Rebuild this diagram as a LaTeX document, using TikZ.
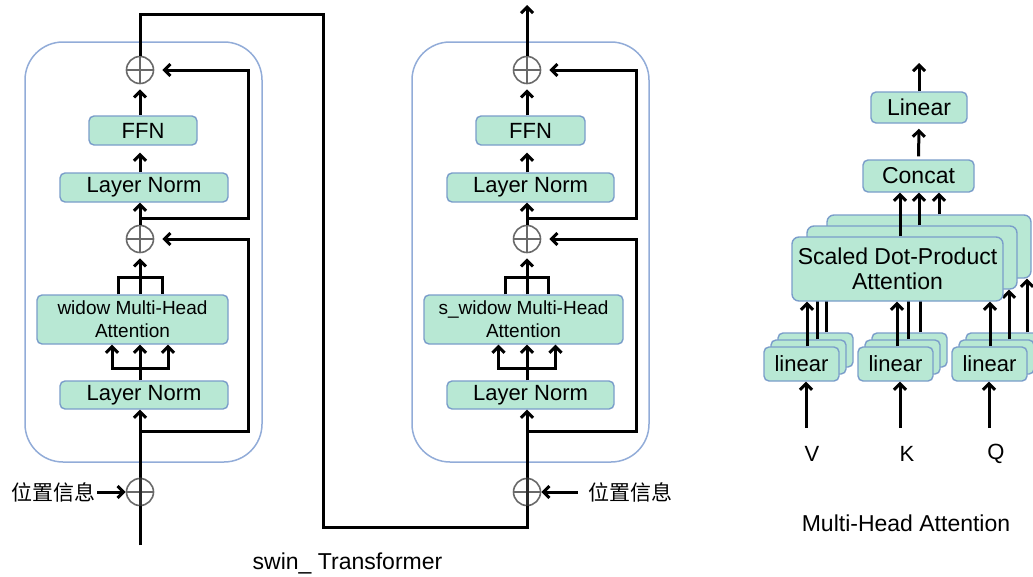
\documentclass[tikz,border=0pt]{standalone}
\usepackage{fontspec}
\setmainfont{Liberation Sans}
\newfontfamily\cjk{Noto Sans CJK SC}
\usetikzlibrary{arrows.meta}
\definecolor{boxfill}{RGB}{184,232,212}
\definecolor{boxdraw}{RGB}{122,157,202}
\definecolor{outerc}{RGB}{146,172,216}
\definecolor{opc}{RGB}{105,105,105}
\tikzset{
  wire/.style={line width=3pt, line join=miter},
  arr/.style={wire, -{Straight Barb[length=6pt,width=12pt]}},
  blk/.style={draw=boxdraw, fill=boxfill, line width=1.4pt, rounded corners=5pt, inner sep=0pt, font=\fontsize{22}{24}\selectfont},
  outerbox/.style={draw=outerc, line width=1.5pt, rounded corners=38pt, inner sep=0pt},
  opl/.style={circle, draw=opc, fill=white, line width=1.6pt, minimum size=27pt, inner sep=0pt,
    path picture={\draw[opc,line width=1.3pt] (path picture bounding box.north) -- (path picture bounding box.south) (path picture bounding box.west) -- (path picture bounding box.east);}},
  lbl/.style={inner sep=0pt, font=\fontsize{22}{24}\selectfont},
  cjklbl/.style={inner sep=0pt, font=\cjk\fontsize{21}{24}\selectfont},
  attn/.style={blk, align=center, font=\fontsize{19}{23}\selectfont},
  mh/.style={blk, font=\fontsize{23}{25}\selectfont},
  sdpa/.style={blk, align=center, font=\fontsize{23}{25}\selectfont, rounded corners=7pt},
  lin/.style={blk, minimum width=75pt, minimum height=34pt, font=\fontsize{22}{24}\selectfont},
}
\begin{document}
\begin{tikzpicture}[x=1pt,y=-1pt]
\useasboundingbox (0,0) rectangle (1033,576);

% ================= left block =================
\node[outerbox, minimum width=237pt, minimum height=420pt] (boxL) at (143.5,252) {};
\coordinate (inL) at (140,545);
\coordinate (fanL) at (140,368);
\draw[wire] (inL) -- (140,492);
\node[blk, minimum width=108pt, minimum height=29pt] (FFNL) at (143,130.5) {FFN};
\node[blk, minimum width=168pt, minimum height=29pt] (LNaL) at (144,187.5) {Layer Norm};
\node[attn, minimum width=191pt, minimum height=49pt] (ATL) at (132.5,319.5) {widow Multi-Head\\Attention};
\node[blk, minimum width=168pt, minimum height=28pt] (LNbL) at (144,395) {Layer Norm};
\node[cjklbl] (PL) at (53,492) {位置信息};

\draw[arr] (140,492) -- (fanL |- LNbL.south);
\draw[wire] (fanL |- LNbL.north) -- (fanL);
\draw[arr] (fanL) -| ([xshift=-28pt]fanL |- ATL.south);
\draw[arr] (fanL) -| ([xshift=28pt]fanL |- ATL.south);
\draw[arr] (fanL) -- (fanL |- ATL.south);
\draw[wire] ([xshift=-22pt]fanL |- ATL.north) |- ([xshift=22pt]fanL |- 0,277) -- ([xshift=22pt]fanL |- ATL.north);

\node[opl] (BL) at (140,492) {};
\draw[wire] (inL) -- (BL.south);
\draw[wire, opc!40!black] (BL.south) -- (BL.north);
\node[opl] (ML) at (140,239) {};
\node[opl] (TL) at (140,70) {};

\draw[arr, shorten >=5pt] (ML |- ATL.north) -- (ML);
\draw[arr] (ML) -- (ML |- LNaL.south);
\draw[arr, shorten >=7pt] (TL |- LNaL.north) -- (TL |- FFNL.south);
\draw[arr, shorten >=5pt] (TL |- FFNL.north) -- (TL);
\draw[arr, shorten >=8pt] (ML |- 0,218) -| (248,0 |- TL) -- (TL);
\draw[arr, shorten >=8pt] (BL |- 0,431) -| (248,0 |- ML) -- (ML);
\draw[arr, shorten <=2pt] (PL.east) -- (BL);

% ================= right block =================
\node[outerbox, minimum width=237pt, minimum height=420pt] (boxR) at (530.5,252) {};
\coordinate (fanR) at (527,368);
\node[blk, minimum width=109pt, minimum height=29pt] (FFNR) at (530.5,130.5) {FFN};
\node[blk, minimum width=167pt, minimum height=29pt] (LNaR) at (530.5,187.5) {Layer Norm};
\node[attn, minimum width=199pt, minimum height=49pt] (ATR) at (523.5,319.5) {s\_widow Multi-Head\\Attention};
\node[blk, minimum width=167pt, minimum height=28pt] (LNbR) at (530.5,395) {Layer Norm};
\node[cjklbl] (PR) at (630,492) {位置信息};

\draw[arr] (527,492) -- (fanR |- LNbR.south);
\draw[wire] (fanR |- LNbR.north) -- (fanR);
\draw[arr] (fanR) -| ([xshift=-28.5pt]fanR |- ATR.south);
\draw[arr] (fanR) -| ([xshift=28.5pt]fanR |- ATR.south);
\draw[arr] (fanR) -- (fanR |- ATR.south);
\draw[wire] ([xshift=-21.5pt]fanR |- ATR.north) |- ([xshift=21.5pt]fanR |- 0,277) -- ([xshift=21.5pt]fanR |- ATR.north);

\node[opl] (BR) at (527,492) {};
\draw[wire, opc!40!black] (BR.south) -- (BR.north);
\node[opl] (MR) at (527,239) {};
\node[opl] (TR) at (527,70) {};
\coordinate (outR) at (527,5);

\draw[arr, shorten >=5pt] (MR |- ATR.north) -- (MR);
\draw[arr] (MR) -- (MR |- LNaR.south);
\draw[arr, shorten >=7pt] (TR |- LNaR.north) -- (TR |- FFNR.south);
\draw[arr, shorten >=5pt] (TR |- FFNR.north) -- (TR);
\draw[arr] (TR) -- (outR);
\draw[arr, shorten >=8pt] (MR |- 0,218) -| (636,0 |- TR) -- (TR);
\draw[arr, shorten >=8pt] (BR |- 0,431) -| (636,0 |- MR) -- (MR);
\draw[arr, shorten <=10pt] (PR.west) -- (BR);

% connection between the blocks
\draw[wire] (TL) -- (TL |- 0,14) -| (323,527) -| (BR);

\node[lbl, font=\fontsize{23}{25}\selectfont] (capL) at (347.5,563) {swin\_ Transformer};

% ================= multi-head attention =================
\node[mh, minimum width=96pt, minimum height=31pt] (LIN) at (919,107.5) {Linear};
\coordinate (mhout) at (919,63);
\node[mh, minimum width=111pt, minimum height=32pt] (CC) at (918.5,176) {Concat};
\draw[arr] (LIN) -- (mhout);
\draw[arr, shorten >=5pt, shorten <=3pt] (CC) -- (LIN);

% back layer
\node[sdpa, minimum width=204pt, minimum height=63pt] (sd2) at (929,246.5) {};
\node[lin] (vl2) at (815.5,350) {};
\node[lin] (kl2) at (909.5,350) {};
\node[lin] (ql2) at (1003.5,350) {};
\draw[arr] (826,0 |- vl2.north) -- (826,0 |- sd2.south);
\draw[arr] (920,0 |- kl2.north) -- (920,0 |- sd2.south);
\draw[arr] (1027,0 |- ql2.north) -- (1027,0 |- sd2.south);
% middle layer
\node[sdpa, minimum width=210pt, minimum height=63pt] (sd1) at (912,257.5) {};
\node[lin] (vl1) at (808.5,357) {};
\node[lin] (kl1) at (902.5,357) {};
\node[lin] (ql1) at (996.5,357) {};
\draw[arr] (817,0 |- vl1.north) -- (817,0 |- sd1.south);
\draw[arr] (908,0 |- kl1.north) -- (908,0 |- sd1.south);
\draw[arr] (1009,0 |- ql1.north) -- (1009,0 |- sd1.south);
% front layer
\node[sdpa, minimum width=211pt, minimum height=64pt] (sd0) at (897.5,269) {Scaled Dot-Product\\Attention};
\node[lin] (vl0) at (801.5,364) {linear};
\node[lin] (kl0) at (895.5,364) {linear};
\node[lin] (ql0) at (989.5,364) {linear};
\draw[arr] (807,0 |- vl0.north) -- (807,0 |- sd0.south);
\draw[arr] (897,0 |- kl0.north) -- (897,0 |- sd0.south);
\draw[arr] (990,0 |- ql0.north) -- (990,0 |- sd0.south);

% into concat
\draw[arr] (900,0 |- sd0.north) -- (900,0 |- CC.south);
\draw[arr] (919,0 |- sd1.north) -- (919,0 |- CC.south);
\draw[arr] (939,0 |- sd2.north) -- (939,0 |- CC.south);

% inputs
\node[lbl] (V) at (812,454) {V};
\node[lbl] (K) at (907,454) {K};
\node[lbl] (Q) at (996,454) {Q};
\coordinate (vin) at (806,428);
\coordinate (kin) at (900,428);
\coordinate (qin) at (989,428);
\draw[arr] (vin) -- (vin |- vl0.south);
\draw[arr] (kin) -- (kin |- kl0.south);
\draw[arr] (qin) -- (qin |- ql0.south);

\node[lbl, font=\fontsize{23}{25}\selectfont] (capR) at (906,523) {Multi-Head Attention};
\end{tikzpicture}
\end{document}
